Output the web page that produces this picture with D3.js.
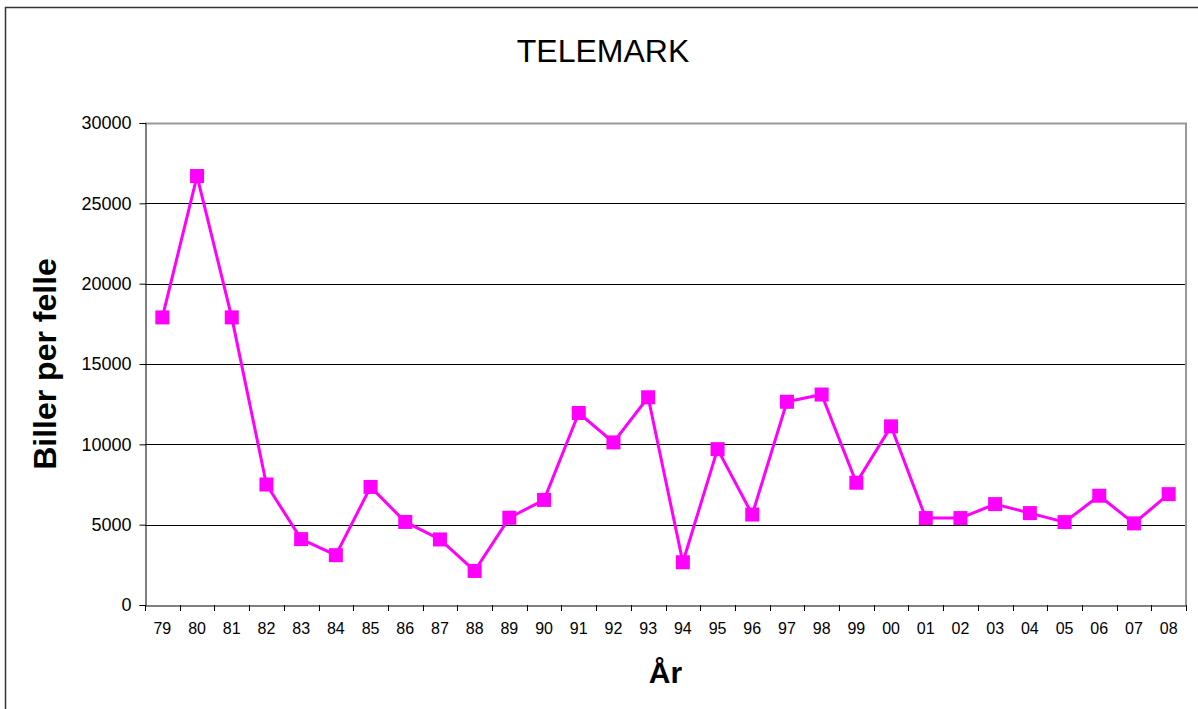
<!DOCTYPE html>
<html>
<head>
<meta charset="utf-8">
<script src="https://cdn.jsdelivr.net/npm/d3@7"></script>
<style>
  body { margin: 0; background: #fff; }
  text { font-family: "Liberation Sans", Arial, sans-serif; fill: #000; }
</style>
</head>
<body>
<div id="chart"></div>
<script>
// data
var years = ["79","80","81","82","83","84","85","86","87","88","89","90","91","92","93",
             "94","95","96","97","98","99","00","01","02","03","04","05","06","07","08"];
var beetles = [17900, 26700, 17900, 7500, 4100, 3100, 7350, 5170, 4080, 2120, 5430, 6540,
               11950, 10120, 12930, 2660, 9700, 5630, 12650, 13100, 7610, 11120, 5410, 5410,
               6280, 5720, 5160, 6800, 5080, 6900];
var yTicks = [0, 5000, 10000, 15000, 20000, 25000, 30000];

var width = 1198, height = 709;
var margin = { top: 123, right: 12, bottom: 104, left: 145 };

var svg = d3.select("#chart").append("svg")
  .attr("width", width)
  .attr("height", height);

// outer chart border
svg.append("rect")
  .attr("x", 5.5).attr("y", 7.5)
  .attr("width", 1300).attr("height", 800)
  .attr("fill", "none")
  .attr("stroke", "#333")
  .attr("stroke-width", 1.5);

var x = d3.scaleBand()
  .domain(years)
  .range([margin.left, width - margin.right]);

var y = d3.scaleLinear()
  .domain([0, 30000])
  .range([height - margin.bottom, margin.top]);

//gridlines
svg.append("g")
  .selectAll("line")
  .data(yTicks.filter(function(d) { return d > 0 && d < 30000; }))
  .enter()
  .append("line")
  .attr("x1", margin.left).attr("x2", width - margin.right)
  .attr("y1", function(d) { return Math.round(y(d)) + 0.5; })
  .attr("y2", function(d) { return Math.round(y(d)) + 0.5; })
  .attr("stroke", "#000")
  .attr("stroke-width", 1);

// plot area border top and right (grey)
svg.append("path")
  .attr("d", "M" + margin.left + "," + (y(30000) + 0.5) +
             "H" + (width - margin.right) + "V" + y(0))
  .attr("fill", "none")
  .attr("stroke", "#999")
  .attr("stroke-width", 2);

// y axis
var yAxis = svg.append("g")
  .attr("transform", "translate(" + (margin.left + 0.5) + ",0)")
  .call(d3.axisLeft(y).tickValues(yTicks).tickSize(6).tickPadding(8).tickFormat(d3.format("d")));
yAxis.select(".domain").attr("stroke", "#000");
yAxis.selectAll(".tick line").attr("stroke", "#000");
yAxis.selectAll("text")
  .style("font-size", "18px")
  .attr("fill", "#000");

// x axis, ticks between categories
var xAxis = svg.append("g")
  .attr("transform", "translate(0," + (Math.round(y(0)) + 0.5) + ")")
  .call(d3.axisBottom(x).tickSize(0).tickPadding(17));
xAxis.select(".domain").attr("stroke", "#000");
xAxis.selectAll("text")
  .style("font-size", "16px")
  .attr("fill", "#000");

svg.append("g")
  .selectAll("line")
  .data(years.concat(["end"]))
  .enter()
  .append("line")
  .attr("x1", function(d, i) { return Math.round(margin.left + i * x.step()) + 0.5; })
  .attr("x2", function(d, i) { return Math.round(margin.left + i * x.step()) + 0.5; })
  .attr("y1", y(0))
  .attr("y2", y(0) + 6)
  .attr("stroke", "#000");

// line + markers
var line = d3.line()
  .x(function(d, i) { return x(years[i]) + x.bandwidth() / 2; })
  .y(function(d) { return y(d); });

svg.append("path")
  .datum(beetles)
  .attr("d", line)
  .attr("fill", "none")
  .attr("stroke", "#ff00ff")
  .attr("stroke-width", 3)
  .attr("stroke-linejoin", "round");

svg.append("g")
  .selectAll("rect")
  .data(beetles)
  .enter()
  .append("rect")
  .attr("x", function(d, i) { return x(years[i]) + x.bandwidth() / 2 - 7; })
  .attr("y", function(d) { return y(d) - 7; })
  .attr("width", 14)
  .attr("height", 14)
  .attr("fill", "#ff00ff");

// titles
svg.append("text")
  .attr("x", 603)
  .attr("y", 62)
  .attr("text-anchor", "middle")
  .style("font-size", "32px")
  .text("TELEMARK");

svg.append("text")
  .attr("x", (margin.left + width - margin.right) / 2)
  .attr("y", 683)
  .attr("text-anchor", "middle")
  .style("font-size", "30px")
  .style("font-weight", "bold")
  .text("År");

svg.append("text")
  .attr("transform", "translate(56," + ((y(0) + y(30000)) / 2) + ") rotate(-90)")
  .attr("text-anchor", "middle")
  .style("font-size", "32px")
  .style("font-weight", "bold")
  .text("Biller per felle");
</script>
</body>
</html>
